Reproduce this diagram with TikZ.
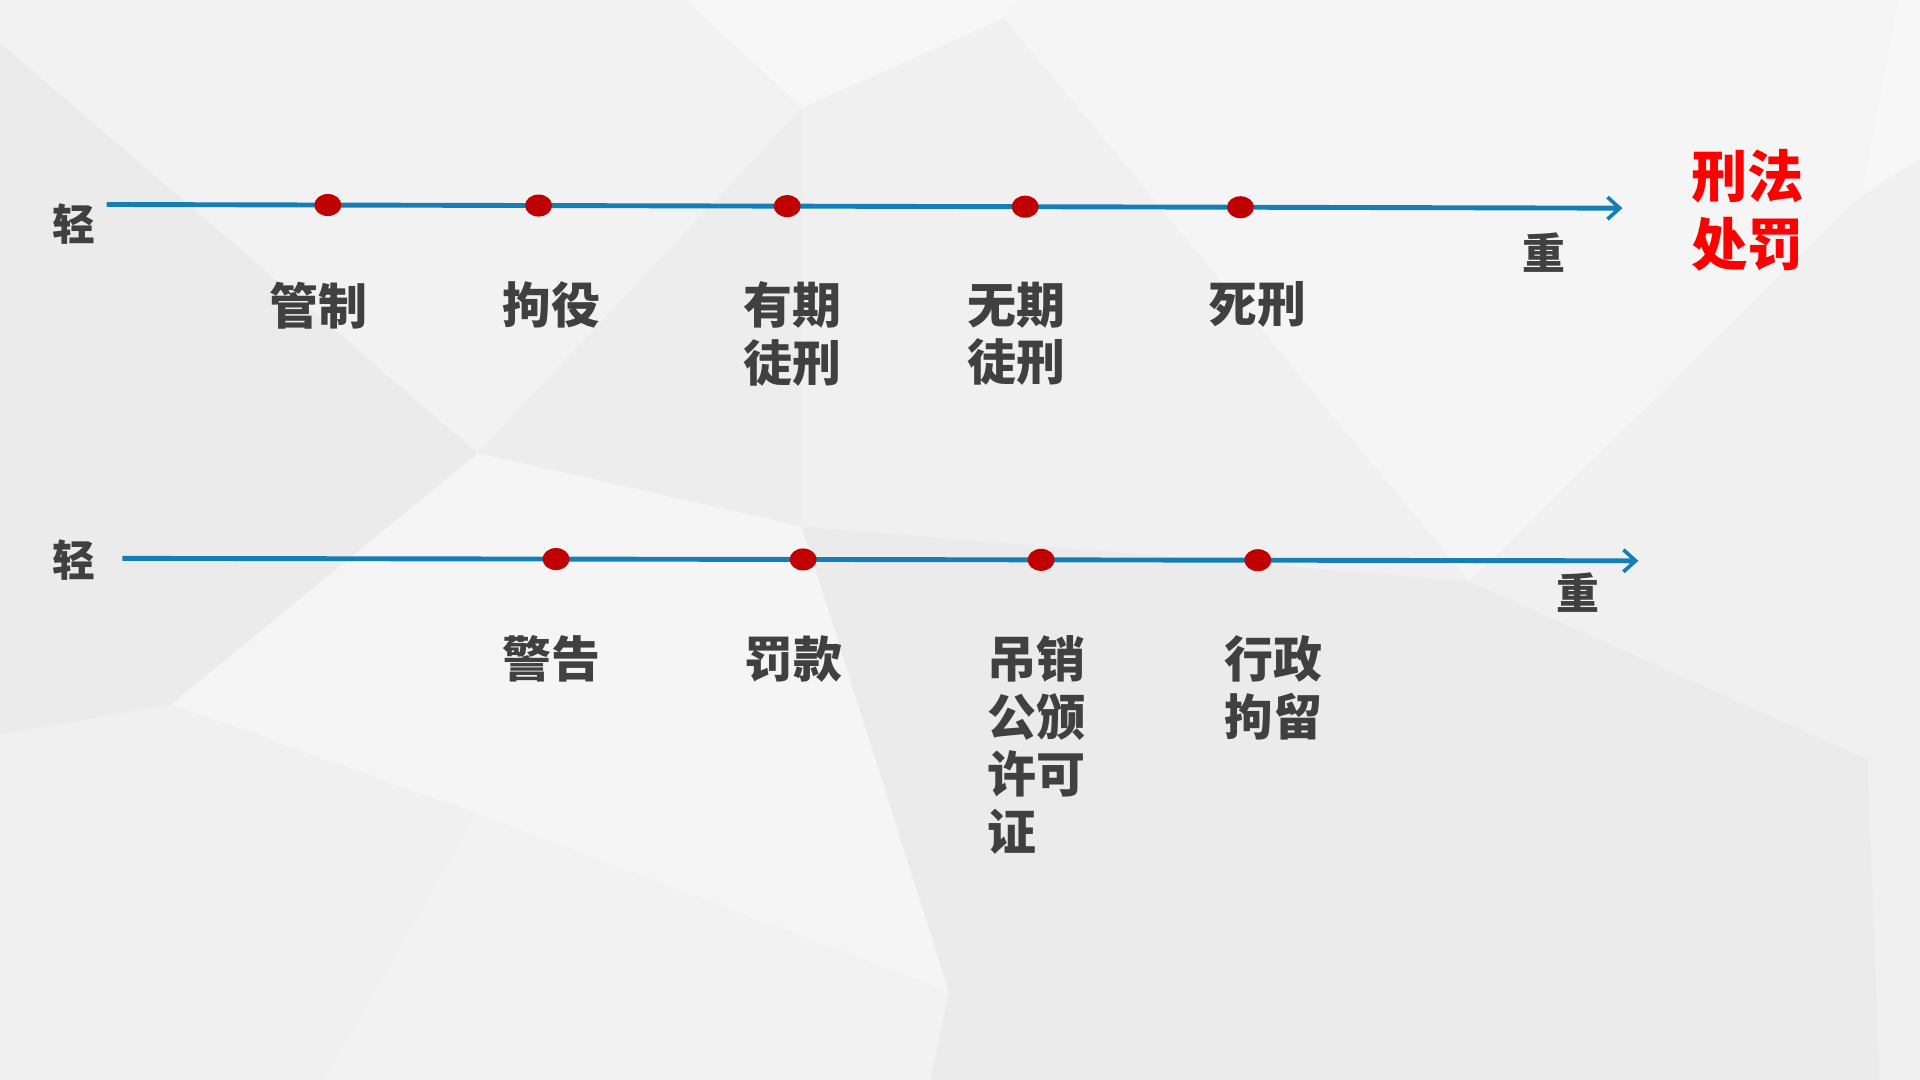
\documentclass[tikz,border=0pt]{standalone}
\usepackage{fontspec}
\newfontfamily\cjk{Noto Sans CJK SC}
\usetikzlibrary{arrows.meta,calc,shapes.geometric}
\definecolor{axisblue}{RGB}{20,126,182}
\definecolor{dotred}{RGB}{192,0,0}
\definecolor{txtgray}{RGB}{64,64,64}
\definecolor{titlered}{RGB}{255,0,0}
\tikzset{
  axis/.style={draw=axisblue,line width=4pt,-{Straight Barb[length=10pt,width=18pt,line width=3pt]}},
  dot/.style={ellipse,fill=dotred,minimum width=22pt,minimum height=18pt,inner sep=0pt},
  lbl/.style={font=\cjk\bfseries\fontsize{40}{47}\selectfont,text=txtgray,inner sep=0pt,anchor=north,align=center},
  lbll/.style={lbl,align=left,anchor=north west},
  endlbl/.style={font=\cjk\bfseries\fontsize{35}{40}\selectfont,text=txtgray,inner sep=0pt},
  title/.style={font=\cjk\bfseries\fontsize{46}{55}\selectfont,text=titlered,inner sep=0pt,anchor=north,align=center},
}
\begin{document}
\begin{tikzpicture}[x=1pt,y=-1pt]
\useasboundingbox (0,0) rectangle (1568,882);
% background facets
\fill[black!7] (0,0) rectangle (1568,882);
\fill[black!5] (0,0) -- (560,0) -- (655,88) -- (390,370) -- (0,35) -- cycle;
\fill[black!3] (560,0) -- (830,0) -- (820,15) -- (655,88) -- cycle;
\fill[black!6] (655,88) -- (820,15) -- (1200,475) -- (655,430) -- cycle;
\fill[black!4] (390,370) -- (655,430) -- (775,810) -- (390,665) -- (140,575) -- cycle;
\fill[black!8] (0,35) -- (390,370) -- (140,575) -- (0,600) -- cycle;
\fill[black!6] (0,600) -- (140,575) -- (390,665) -- (265,882) -- (0,882) -- cycle;
\fill[black!5] (390,665) -- (775,810) -- (760,882) -- (265,882) -- cycle;
\fill[black!8] (655,430) -- (1200,475) -- (1525,620) -- (1535,882) -- (760,882) -- (775,810) -- cycle;
\fill[black!6] (1525,620) -- (1568,600) -- (1568,882) -- (1535,882) -- cycle;
\fill[black!4] (830,0) -- (1550,0) -- (1520,160) -- (1200,475) -- (820,15) -- cycle;
\fill[black!3] (1550,0) -- (1568,0) -- (1568,130) -- (1520,160) -- cycle;
\fill[black!6] (1520,160) -- (1568,130) -- (1568,600) -- (1525,620) -- (1200,475) -- cycle;

% top axis
\coordinate (ta) at (87,167);
\coordinate (tb) at (1325,170);
\draw[axis] (ta) -- (tb);
\node[dot] (d1) at ($(ta)!0.146!(tb)$) {};
\node[dot] (d2) at ($(ta)!0.285!(tb)$) {};
\node[dot] (d3) at ($(ta)!0.449!(tb)$) {};
\node[dot] (d4) at ($(ta)!0.606!(tb)$) {};
\node[dot] (d5) at ($(ta)!0.748!(tb)$) {};
\node[endlbl] (tlight) at (60,183) {轻};
\node[endlbl] (theavy) at (1261,206) {重};
\node[lbl] (l1) at (260,230) {管制};
\node[lbl] (l2) at (450,230) {拘役};
\node[lbl] (l3) at (647,230) {有期\\徒刑};
\node[lbl] (l4) at (830,230) {无期\\徒刑};
\node[lbl] (l5) at (1027,230) {死刑};
\node[title] (ttl) at (1427,122) {刑法\\处罚};

% bottom axis
\coordinate (ba) at (100,456);
\coordinate (bb) at (1338,458);
\draw[axis] (ba) -- (bb);
\node[dot] (e1) at ($(ba)!0.286!(bb)$) {};
\node[dot] (e2) at ($(ba)!0.449!(bb)$) {};
\node[dot] (e3) at ($(ba)!0.606!(bb)$) {};
\node[dot] (e4) at ($(ba)!0.749!(bb)$) {};
\node[endlbl] (blight) at (60,457) {轻};
\node[endlbl] (bheavy) at (1289,484) {重};
\node[lbl] (m1) at (450,519) {警告};
\node[lbl] (m2) at (648,519) {罚款};
\node[lbll] (m3) at (806,519) {吊销\\公颁\\许可\\证};
\node[lbl] (m4) at (1040,519) {行政\\拘留};
\end{tikzpicture}
\end{document}
